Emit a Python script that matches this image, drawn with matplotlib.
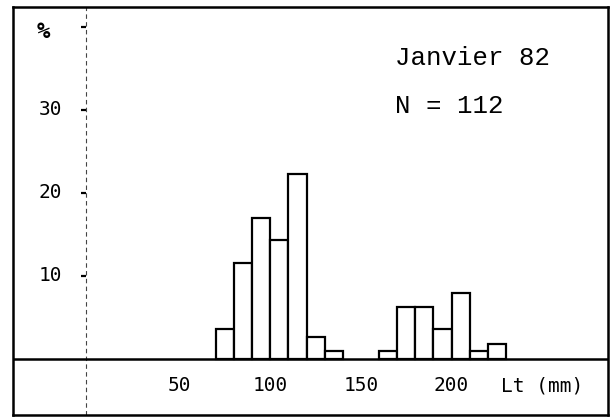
import matplotlib.pyplot as plt
import numpy as np

# <---------- Datos ---------->
bin_left = [70, 80, 90, 100, 110, 120, 130, 140, 150,
            160, 170, 180, 190, 200, 210, 220]
pct = [3.6, 11.6, 17.0, 14.3, 22.3, 2.7, 0.9, 0, 0,
       0.9, 6.3, 6.3, 3.6, 8.0, 0.9, 1.8]
bin_width = 10
yticks = [10, 20, 30]
xticks = [50, 100, 150, 200]
titulo = "Janvier 82"
n_label = "N = 112"

# <---------- Figura ---------->
fig = plt.figure(figsize=(6.16, 4.17), dpi=100)
ax = fig.add_axes([13/616, 2/417, 595/616, 408/417])
ax.set_xlim(-41.9, 286.3)
ax.set_ylim(-6.75, 42.4)
for s in ax.spines.values():
    s.set_linewidth(1.8)
ax.set_xticks([])
ax.set_yticks([])

bars = [(x, h) for x, h in zip(bin_left, pct) if h > 0]
ax.bar([b[0] for b in bars], [b[1] for b in bars], width=bin_width,
       align="edge", color="white", edgecolor="black", linewidth=1.6, zorder=3)

# linea base y eje vertical punteado
ax.axhline(0, color="black", lw=1.8, zorder=4)
ax.axvline(-1.5, color="#444", lw=0.8, ls=(0, (4, 3)), zorder=2)
ax.hlines(yticks + [40], -4.5, -1.5, color="black", lw=1.6)

tfont = dict(family="DejaVu Sans Mono", fontsize=14)
for t in yticks:
    ax.text(-15, t, str(t), ha="right", va="center", **tfont)
ax.text(-25, 39.4, "%", ha="center", va="center", fontweight="bold",
        family="DejaVu Sans Mono", fontsize=16)
for t in xticks:
    ax.text(t, -3.2, str(t), ha="center", va="center", **tfont)
ax.text(250, -3.2, "Lt (mm)", ha="center", va="center", **tfont)

afont = dict(family="Liberation Mono", fontsize=18.5)
ax.text(169, 36.3, titulo, ha="left", va="center", **afont)
ax.text(169, 30.5, n_label, ha="left", va="center", **afont)

plt.savefig("out.png", dpi=100)
